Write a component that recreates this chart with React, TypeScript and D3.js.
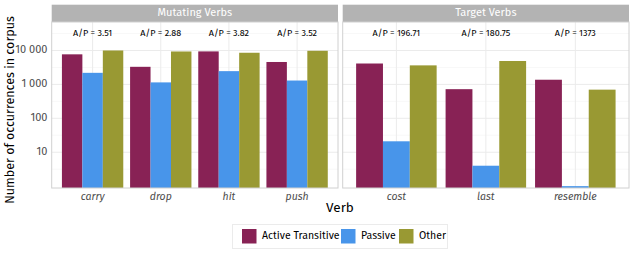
import React from "react";
import { scaleBand, scaleLog } from "d3";

const series = ["Active Transitive", "Passive", "Other"];
const colors = ["#882255", "#4895ea", "#999933"];

const mutatingVerbs = ["carry", "drop", "hit", "push"];
const mutatingActive = [7700, 3300, 9400, 4580];
const mutatingPassive = [2194, 1146, 2460, 1300];
const mutatingOther = [10000, 9350, 8570, 9800];
const mutatingRatio = ["3.51", "2.88", "3.82", "3.52"];

const targetVerbs = ["cost", "last", "resemble"];
const targetActive = [4131, 723, 1373];
const targetPassive = [21, 4, 1];
const targetOther = [3640, 4900, 700];
const targetRatio = ["196.71", "180.75", "1373"];

const yTicks = [10, 100, 1000, 10000];
const yTickLabels = ["10", "100", "1 000", "10 000"];

const width = 634;
const height = 254;
const font = "'Fira Sans', 'Noto Sans', sans-serif";
const panelTop = 22;
const panelBottom = 188;
const labelY = 31000;

const panels = [
  { title: "Mutating Verbs", x0: 51.7, x1: 338, verbs: mutatingVerbs, values: [mutatingActive, mutatingPassive, mutatingOther], ratio: mutatingRatio },
  { title: "Target Verbs", x0: 342.7, x1: 629, verbs: targetVerbs, values: [targetActive, targetPassive, targetOther], ratio: targetRatio },
];

// log axis, bottom a little under 1 so the value-1 bar still shows
const y = scaleLog().domain([Math.pow(10, -0.055), Math.pow(10, 4.84)]).range([panelBottom, panelTop]);

const Panel = ({ p }: { p: typeof panels[0] }) => {
  const x = scaleBand().domain(p.verbs).range([p.x0, p.x1]).paddingInner(0.1).paddingOuter(0.15);
  const xs = scaleBand().domain(series).range([0, x.bandwidth()]);
  const minor = [0.5, 1.5, 2.5, 3.5, 4.5].map((e) => Math.pow(10, e));
  return (
    <g>
      <rect x={p.x0} y={4.7} width={p.x1 - p.x0} height={panelTop - 4.7} fill="#b3b3b3" />
      <text x={(p.x0 + p.x1) / 2} y={13.5} fill="white" fontSize={11} textAnchor="middle" dominantBaseline="middle">
        {p.title}
      </text>
      {minor.map((v) => (
        <line key={v} x1={p.x0} x2={p.x1} y1={y(v)} y2={y(v)} stroke="#f4f4f4" strokeWidth={0.6} />
      ))}
      {yTicks.map((v) => (
        <line key={v} x1={p.x0} x2={p.x1} y1={y(v)} y2={y(v)} stroke="#ebebeb" strokeWidth={1} />
      ))}
      {p.verbs.map((v) => (
        <line key={v} x1={x(v)! + x.bandwidth() / 2} x2={x(v)! + x.bandwidth() / 2} y1={panelTop} y2={panelBottom} stroke="#ebebeb" strokeWidth={1} />
      ))}
      {p.verbs.map((v, i) =>
        series.map((s, j) => (
          <rect
            key={v + s}
            x={x(v)! + xs(s)!}
            y={y(p.values[j][i])}
            width={xs.bandwidth()}
            height={panelBottom - y(p.values[j][i])}
            fill={colors[j]}
          />
        ))
      )}
      {p.verbs.map((v, i) => (
        <text key={v} x={x(v)! + x.bandwidth() / 2} y={y(labelY)} fontSize={9} textAnchor="middle" dominantBaseline="middle" fill="black">
          {`A/P = ${p.ratio[i]}`}
        </text>
      ))}
      <rect x={p.x0} y={panelTop} width={p.x1 - p.x0} height={panelBottom - panelTop} fill="none" stroke="#d0d0d0" strokeWidth={1} />
      {p.verbs.map((v) => (
        <text key={v} x={x(v)! + x.bandwidth() / 2} y={197} fontSize={10.5} fontStyle="italic" fill="#4d4d4d" textAnchor="middle" dominantBaseline="middle">
          {v}
        </text>
      ))}
    </g>
  );
};

export default function App() {
  return (
    <svg width={width} height={height} style={{ position: "absolute", left: 0, top: 0, fontFamily: font }}>
      <rect width={width} height={height} fill="white" />
      {panels.map((p) => (
        <Panel key={p.title} p={p} />
      ))}
      {yTicks.map((v, i) => (
        <text key={v} x={47.5} y={y(v)} fontSize={11} fill="#4d4d4d" textAnchor="end" dominantBaseline="middle">
          {yTickLabels[i]}
        </text>
      ))}
      <text transform={`translate(11,${(panelTop + panelBottom) / 2 + 5}) rotate(-90)`} fontSize={12.5} textAnchor="middle" dominantBaseline="middle" fill="black">
        Number of occurrences in corpus
      </text>
      <text x={340} y={208} fontSize={13.5} textAnchor="middle" dominantBaseline="middle" fill="black">
        Verb
      </text>
      <rect x={232.5} y={224.5} width={215} height={24} fill="white" stroke="#ebebeb" />
      {series.map((s, i) => {
        const kx = [242, 341, 399][i];
        return (
          <g key={s}>
            <rect x={kx} y={229} width={14.5} height={14.5} fill={colors[i]} />
            <text x={kx + 20} y={236.5} fontSize={10.5} dominantBaseline="middle" fill="black">
              {s}
            </text>
          </g>
        );
      })}
    </svg>
  );
}
